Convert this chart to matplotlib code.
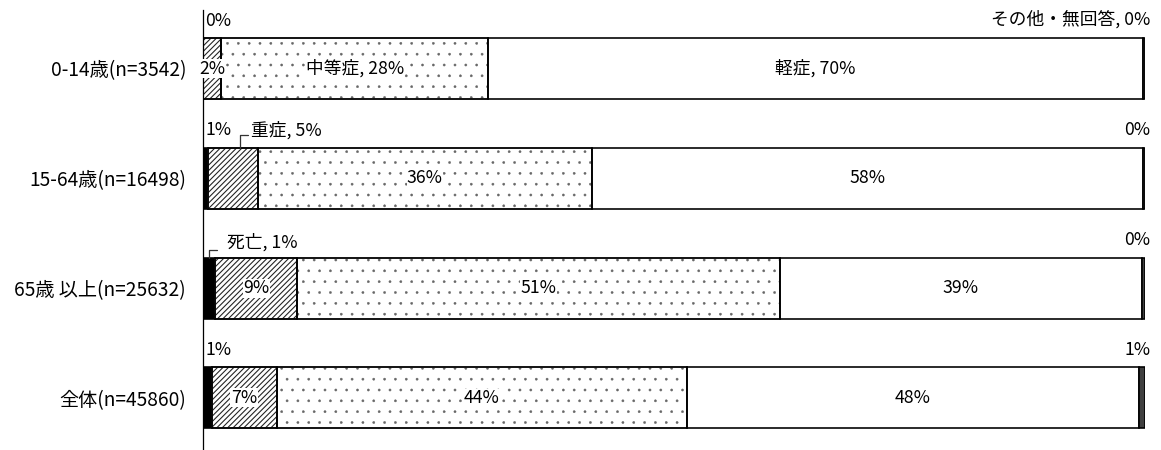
import matplotlib
matplotlib.use("Agg")
import matplotlib.pyplot as plt

plt.rcParams['font.family'] = ['Noto Sans CJK JP', 'DejaVu Sans']

# ---- data ----
groups = ['0-14歳(n=3542)', '15-64歳(n=16498)', '65歳 以上(n=25632)', '全体(n=45860)']
series = ['死亡', '重症', '中等症', '軽症', 'その他・無回答']
death = [0.05, 0.5, 1.3, 0.9]
severe = [1.9, 5.3, 8.7, 6.9]
moderate = [28.3, 35.5, 51.2, 43.6]
mild = [69.5, 58.5, 38.5, 47.9]
other = [0.25, 0.2, 0.3, 0.7]
# displayed (rounded) labels
death_lbl = ['0%', '1%', '死亡, 1%', '1%']
severe_lbl = ['2%', '重症, 5%', '9%', '7%']
moderate_lbl = ['中等症, 28%', '36%', '51%', '44%']
mild_lbl = ['軽症, 70%', '58%', '39%', '48%']
other_lbl = ['その他・無回答, 0%', '0%', '0%', '1%']

DPI = 130
W, H = 1161, 450
fig = plt.figure(figsize=(W / DPI + 0.001, H / DPI + 0.001), dpi=DPI)
ax = fig.add_axes([203 / W, 0, 942 / W, 440 / H])


def px(p):
    return p * 72.0 / DPI


bh = 0.556
ys = list(range(len(groups)))
styles = [
    dict(color='black', edgecolor='black', hatch=None, hlw=0.6),
    dict(color='white', edgecolor='#222222', hatch='////////', hlw=0.6),
    dict(color='white', edgecolor='#666666', hatch='..', hlw=0.25),
    dict(color='white', edgecolor='black', hatch=None, hlw=0.6),
    dict(color='#404040', edgecolor='black', hatch=None, hlw=0.6),
]
vals = [death, severe, moderate, mild, other]
left = [0.0] * len(groups)
lefts = []
for v, st in zip(vals, styles):
    lefts.append(list(left))
    plt.rcParams['hatch.linewidth'] = st['hlw']
    bars = ax.barh(ys, v, left=left, height=bh, color=st['color'],
                   edgecolor=st['edgecolor'], hatch=st['hatch'], linewidth=0.9, zorder=2)
    for b in bars:
        if hasattr(b, 'set_hatch_linewidth'):
            b.set_hatch_linewidth(st['hlw'])
    if st['hatch'] is not None:
        # black outline over the hatched segments
        ax.barh(ys, v, left=left, height=bh, fill=False, edgecolor='black',
                linewidth=0.9, zorder=3)
    left = [l + x for l, x in zip(left, v)]

fs = 9.8
lead = dict(arrowstyle='-', connectionstyle='angle,angleA=0,angleB=90,rad=0',
            shrinkB=0, lw=0.7, color='#333333')
for i, y in enumerate(ys):
    top = y - bh / 2
    # severe label
    if i == 1:
        xl = lefts[1][i] + severe[i] * 0.65
        ax.annotate(severe_lbl[i], xy=(xl, top), xytext=(px(11), px(17)),
                    textcoords='offset points', ha='left', va='center', fontsize=fs,
                    arrowprops=dict(relpos=(0, 0.25), shrinkA=0, **lead))
    else:
        ax.text(lefts[1][i] + severe[i] / 2, y, severe_lbl[i], ha='center', va='center',
                fontsize=fs, bbox=dict(facecolor='white', edgecolor='none', pad=0.3), zorder=5)
    # death label
    if i == 2:
        xl = death[i] / 2
        ax.annotate(death_lbl[i], xy=(xl, top), xytext=(px(18), px(15)),
                    textcoords='offset points', ha='left', va='center', fontsize=fs,
                    arrowprops=dict(relpos=(0, 0.1), shrinkA=px(7), **lead))
    else:
        ax.annotate(death_lbl[i], xy=(0, top), xytext=(px(2), px(17.5)),
                    textcoords='offset points', ha='left', va='center', fontsize=fs)
    # moderate
    ax.text(lefts[2][i] + moderate[i] / 2, y, moderate_lbl[i], ha='center', va='center',
            fontsize=fs, bbox=dict(facecolor='white', edgecolor='none', pad=0.1), zorder=5)
    # mild
    ax.text(lefts[3][i] + mild[i] / 2, y, mild_lbl[i], ha='center', va='center',
            fontsize=fs, zorder=5)
    # other
    ax.annotate(other_lbl[i], xy=(100, top), xytext=(px(5), px(19 if i == 0 else 17.5)),
                textcoords='offset points', ha='right', va='center', fontsize=fs)

ax.set_xlim(0, 100)
ax.set_ylim(3.474, -0.533)
ax.set_yticks(ys)
ax.set_yticklabels(groups, fontsize=10.6)
ax.tick_params(axis='y', length=0, pad=px(17))
ax.set_xticks([])
for s in ['top', 'right', 'bottom']:
    ax.spines[s].set_visible(False)
ax.spines['left'].set_linewidth(0.7)
ax.patch.set_alpha(0)

fig.savefig('out.png', dpi=DPI)
